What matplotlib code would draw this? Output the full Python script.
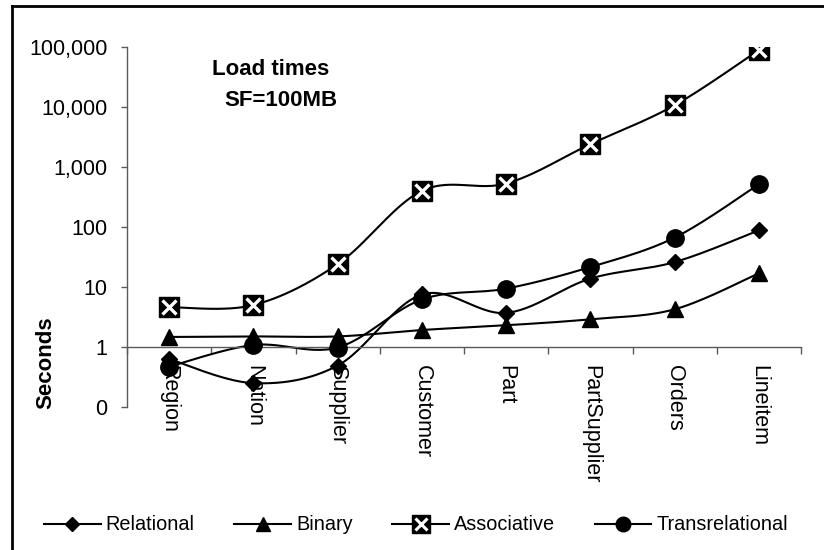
import numpy as np
import matplotlib
matplotlib.use("Agg")
import matplotlib.pyplot as plt
from matplotlib.lines import Line2D
from matplotlib.ticker import FixedLocator, FuncFormatter

plt.rcParams['font.family'] = ['Liberation Sans', 'DejaVu Sans']

# Tables and load times (seconds)
tables = ["Region", "Nation", "Supplier", "Customer", "Part",
          "PartSupplier", "Orders", "Lineitem"]
relational = [0.63, 0.25, 0.49, 7.5, 3.7, 13.8, 26, 88]
binary = [1.47, 1.5, 1.5, 1.92, 2.3, 2.9, 4.25, 16.9]
associative = [4.6, 5.0, 24, 400, 530, 2400, 10700, 89000]
transrelational = [0.47, 1.08, 0.98, 6.2, 9.4, 21.5, 66.5, 515]

y_ticks = [0.1, 1, 10, 100, 1000, 10000, 100000]


def smooth(values, steps=30):
    """Catmull-Rom smoothing in (index, log10 value) space."""
    x = np.arange(len(values), dtype=float)
    y = np.log10(np.asarray(values, dtype=float))
    px = np.concatenate([[x[0]], x, [x[-1]]])
    py = np.concatenate([[y[0]], y, [y[-1]]])
    xs, ys = [], []
    t = np.linspace(0, 1, steps)
    for i in range(1, len(px) - 2):
        p0 = np.array([px[i], py[i]])
        p3 = np.array([px[i + 1], py[i + 1]])
        c1 = p0 + (np.array([px[i + 1], py[i + 1]]) - np.array([px[i - 1], py[i - 1]])) / 6
        c2 = p3 - (np.array([px[i + 2], py[i + 2]]) - np.array([px[i], py[i]])) / 6
        b = (((1 - t) ** 3)[:, None] * p0 + (3 * (1 - t) ** 2 * t)[:, None] * c1
             + (3 * (1 - t) * t ** 2)[:, None] * c2 + (t ** 3)[:, None] * p3)
        xs.append(b[:, 0])
        ys.append(b[:, 1])
    return np.concatenate(xs), 10 ** np.concatenate(ys)


fig = plt.figure(figsize=(8.24, 5.5), dpi=100)
ax = fig.add_axes([127 / 824, (550 - 407) / 550, (801 - 127) / 824, (407 - 47) / 550])

ax.set_yscale('log')
ax.set_ylim(0.1, 100000)
ax.set_xlim(-0.5, len(tables) - 0.5)

xi = np.arange(len(tables))
lw = 1.5

# Relational
sx, sy = smooth(relational)
ax.plot(sx, sy, color='black', lw=lw, zorder=2)
ax.plot(xi, relational, ls='none', marker='D', ms=8.5, color='black', zorder=3)
# Binary
sx, sy = smooth(binary)
ax.plot(sx, sy, color='black', lw=lw, zorder=2)
ax.plot(xi, binary, ls='none', marker='^', ms=11, color='black', zorder=3)
# Associative
sx, sy = smooth(associative)
ax.plot(sx, sy, color='black', lw=lw, zorder=2)
ax.plot(xi, associative, ls='none', marker='s', ms=14.5, color='black', zorder=3)
ax.plot(xi, associative, ls='none', marker='x', ms=9.5, mew=2.4, color='white', zorder=4)
# Transrelational
sx, sy = smooth(transrelational)
ax.plot(sx, sy, color='black', lw=lw, zorder=2)
ax.plot(xi, transrelational, ls='none', marker='o', ms=12.5, color='black', zorder=3)

# Axes styling: category axis crosses at 1
axis_col = '#5a5a5a'
for side in ['top', 'right']:
    ax.spines[side].set_visible(False)
ax.spines['bottom'].set_position(('data', 1))
ax.spines['bottom'].set_color(axis_col)
ax.spines['left'].set_color(axis_col)
ax.spines['bottom'].set_linewidth(1.0)
ax.spines['left'].set_linewidth(1.0)

ax.yaxis.set_major_locator(FixedLocator(y_ticks))
ax.yaxis.set_minor_locator(FixedLocator([]))
ax.yaxis.set_major_formatter(FuncFormatter(lambda v, p: "0" if v < 1 else f"{int(round(v)):,}"))
ax.tick_params(axis='y', which='major', direction='out', length=4, width=1,
               color=axis_col, labelsize=15.5, pad=10)

ax.set_xticks(xi)
ax.set_xticklabels(tables, rotation=270, fontsize=15.5, ha='center', va='top')
ax.set_xticks(np.arange(len(tables) + 1) - 0.5, minor=True)
ax.tick_params(axis='x', which='major', length=0, pad=13)
ax.tick_params(axis='x', which='minor', direction='out', length=5, width=1, color=axis_col)

# Title and axis label
fig.text(212 / 824, 1 - 70 / 550, "Load times", fontsize=16, fontweight='bold',
         ha='left', va='center')
fig.text(224 / 824, 1 - 101 / 550, "SF=100MB", fontsize=16, fontweight='bold',
         ha='left', va='center')
fig.text(46 / 824, 1 - 363 / 550, "Seconds", fontsize=16, fontweight='bold',
         rotation=90, ha='center', va='center')

# Legend
h_rel = Line2D([], [], color='black', lw=lw, marker='D', ms=7.5)
h_bin = Line2D([], [], color='black', lw=lw, marker='^', ms=10.5)
h_ass_sq = Line2D([], [], color='black', lw=lw, marker='s', ms=13)
h_ass_x = Line2D([], [], ls='none', marker='x', ms=8.5, mew=2.2, color='white')
h_tr = Line2D([], [], color='black', lw=lw, marker='o', ms=10.5)
fig.legend([h_rel, h_bin, (h_ass_sq, h_ass_x), h_tr],
           ["Relational", "Binary", "Associative", "Transrelational"],
           loc='center', bbox_to_anchor=(416 / 824, 1 - 525 / 550), ncol=4,
           frameon=False, fontsize=14.3, handlelength=2.85, handletextpad=0.25,
           columnspacing=2.0)

# Outer frame (left and top edges)
fig.add_artist(Line2D([12 / 824, 12 / 824], [0, 1 - 6 / 550], color='black', lw=2,
                      transform=fig.transFigure))
fig.add_artist(Line2D([12 / 824, 1], [1 - 6 / 550, 1 - 6 / 550], color='black', lw=2,
                      transform=fig.transFigure))

fig.savefig("out.png", dpi=100, facecolor='white')
